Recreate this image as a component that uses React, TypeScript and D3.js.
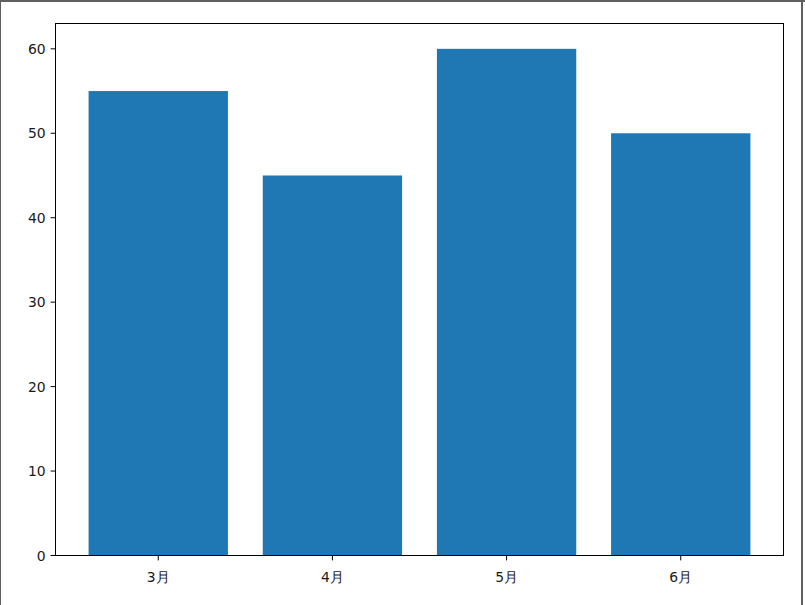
import React from "react";
import * as d3 from "d3";

const categories: string[] = ["3月", "4月", "5月", "6月"];
const values: number[] = [55, 45, 60, 50];
const yTicks: number[] = [0, 10, 20, 30, 40, 50, 60];

const W = 805;
const H = 605;
const margin = { left: 55.5, right: 805 - 783.5, top: 23.5, bottom: 605 - 555.5 };

export default function App() {
  const innerW = W - margin.left - margin.right;
  const innerH = H - margin.top - margin.bottom;

  const n = categories.length;
  const barW = 0.8;
  const lo = -barW / 2;
  const hi = n - 1 + barW / 2;
  const pad = (hi - lo) * 0.05;
  const x = d3.scaleLinear().domain([lo - pad, hi + pad]).range([0, innerW]);
  const yMax = (d3.max(values) as number) * 1.05;
  const y = d3.scaleLinear().domain([0, yMax]).range([innerH, 0]);

  const font = "'DejaVu Sans', sans-serif";
  const textColor = "#1a1a1a";

  return (
    <svg
      width={W}
      height={H}
      style={{ position: "absolute", left: 0, top: 0, background: "#fff" }}
    >
      <rect x={0} y={0} width={W} height={H} fill="#fff" />
      {/* outer window frame */}
      <line x1={0} y1={1} x2={W} y2={1} stroke="#5f6062" strokeWidth={2} />
      <line x1={0.5} y1={0} x2={0.5} y2={H} stroke="#5f6062" strokeWidth={1} />
      <line x1={802} y1={0} x2={802} y2={H} stroke="#5f6062" strokeWidth={2} />

      <g transform={`translate(${margin.left},${margin.top})`}>
        {values.map((v, i) => (
          <rect
            key={categories[i]}
            x={x(i - barW / 2)}
            y={y(v)}
            width={x(i + barW / 2) - x(i - barW / 2)}
            height={innerH - y(v)}
            fill="#1f77b4"
          />
        ))}
        <rect
          x={0}
          y={0}
          width={innerW}
          height={innerH}
          fill="none"
          stroke="#000"
          strokeWidth={1}
        />
        {yTicks.map((t) => (
          <g key={t} transform={`translate(0,${y(t)})`}>
            <line x1={-4.9} x2={0} y1={0} y2={0} stroke="#000" strokeWidth={1} />
            <text
              x={-9.8}
              y={0}
              dy="0.36em"
              textAnchor="end"
              fontFamily={font}
              fontSize={13.9}
              fill={textColor}
            >
              {t}
            </text>
          </g>
        ))}
        {categories.map((c, i) => (
          <g key={c} transform={`translate(${x(i)},${innerH})`}>
            <line x1={0} x2={0} y1={0} y2={4.9} stroke="#000" strokeWidth={1} />
            <text
              x={0}
              y={26}
              textAnchor="middle"
              fontFamily={font}
              fontSize={13.9}
              fill={textColor}
            >
              {c}
            </text>
          </g>
        ))}
      </g>
    </svg>
  );
}
